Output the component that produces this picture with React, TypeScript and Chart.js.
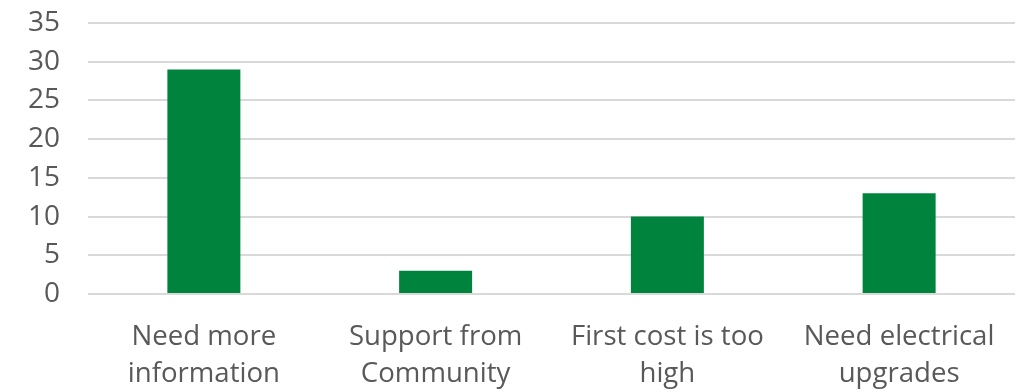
import React, { useEffect, useRef } from "react";
import { Chart, registerables } from "chart.js";

Chart.register(...registerables);

const categories: string[][] = [
  ["Need more", "information"],
  ["Support from", "Community"],
  ["First cost is too", "high"],
  ["Need electrical", "upgrades"],
];
const values: number[] = [29, 3, 10, 13];
const yTicks: number[] = [0, 5, 10, 15, 20, 25, 30, 35];

export default function App() {
  const ref = useRef<HTMLCanvasElement | null>(null);
  useEffect(() => {
    document.body.style.margin = "0";
    const ctx = ref.current!;
    const chart = new Chart(ctx, {
      type: "bar",
      data: {
        labels: categories,
        datasets: [
          {
            data: values,
            backgroundColor: "#00843D",
            borderWidth: 0,
            categoryPercentage: 1,
            barPercentage: 0.315,
          },
        ],
      },
      options: {
        animation: false,
        responsive: false,
        maintainAspectRatio: false,
        layout: { padding: { top: 23, right: 8, left: 0, bottom: 0 } },
        plugins: { legend: { display: false }, tooltip: { enabled: false } },
        scales: {
          x: {
            grid: { display: false },
            border: { display: false },
            ticks: {
              color: "#595959",
              font: { family: "Open Sans", size: 27.6, lineHeight: 1.34 },
              maxRotation: 0,
              autoSkip: false,
              padding: 17,
            },
            afterFit: (s: any) => {
              s.height = 98;
              s.paddingLeft = 0;
              s.paddingRight = 0;
            },
          },
          y: {
            min: 0,
            max: 35,
            afterBuildTicks: (s: any) => {
              s.ticks = yTicks.map((v) => ({ value: v }));
            },
            grid: { color: "#d9d9d9", lineWidth: 2, drawTicks: false },
            border: { display: false },
            ticks: {
              color: "#595959",
              font: { family: "Open Sans", size: 28 },
              padding: 28,
            },
            afterFit: (s: any) => {
              s.width = 88;
              s.paddingTop = 0;
              s.paddingBottom = 0;
            },
          },
        },
      },
    });
    return () => chart.destroy();
  }, []);
  return (
    <div style={{ width: 1023, height: 392 }}>
      <canvas ref={ref} width={1023} height={392} />
    </div>
  );
}
